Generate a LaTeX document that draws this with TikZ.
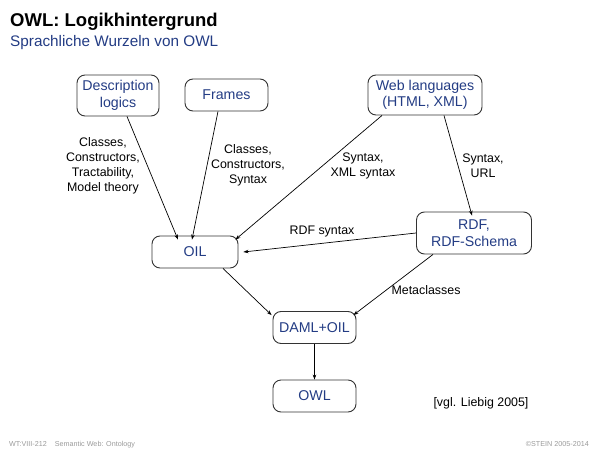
\documentclass[tikz,border=0pt]{standalone}
\usepackage{fontspec}
\setmainfont{Liberation Sans}
\usetikzlibrary{arrows.meta}
\definecolor{owlblue}{HTML}{233C84}
\definecolor{boxgray}{HTML}{333333}
\definecolor{footgray}{HTML}{9A9A9A}
\begin{document}
\begin{tikzpicture}[x=1pt,y=-1pt,
  box/.style={draw=boxgray,line width=0.9pt,rounded corners=8pt,align=center,
    text=owlblue,font=\fontsize{14.2}{16.5}\selectfont,inner sep=0pt},
  lbl/.style={align=center,font=\fontsize{12.4}{15}\selectfont,inner sep=0pt},
  conn/.style={line width=0.7pt,-{Stealth[length=5pt,width=3.6pt]}}]
\useasboundingbox (0,0) rectangle (600,450);
% title
\node[anchor=base west,inner sep=0pt,font=\fontsize{18.5}{20}\bfseries] (title) at (10,26) {OWL: Logikhintergrund};
\node[anchor=base west,inner sep=0pt,font=\fontsize{15.3}{17}\selectfont,text=owlblue] (sub) at (10,46) {Sprachliche Wurzeln von OWL};
% nodes
\node[box,minimum width=82pt,minimum height=41pt] (dl) at (118,95.5) {Description\\logics};
\node[box,minimum width=83pt,minimum height=32pt] (fr) at (226.5,95) {Frames};
\node[box,minimum width=114pt,minimum height=40pt] (web) at (425,95) {Web languages\\(HTML, XML)};
\node[box,minimum width=86pt,minimum height=32pt] (oil) at (195,252) {OIL};
\node[box,minimum width=115pt,minimum height=42pt] (rdf) at (474,233) {RDF,\\RDF-Schema};
\node[box,minimum width=83pt,minimum height=32pt] (daml) at (314.5,327.5) {DAML+OIL};
\node[box,minimum width=83pt,minimum height=32pt] (owl) at (314.5,396) {OWL};
% connectors
\draw[conn] ([xshift=9pt]dl.south) -- ([xshift=-17pt,yshift=-4pt]oil.north);
\draw[conn] ([xshift=-8.5pt]fr.south) -- ([xshift=-3pt,yshift=-4pt]oil.north);
\draw[conn] ([xshift=-43pt]web.south) -- ([xshift=-3pt,yshift=-4pt]oil.north east);
\draw[conn] ([xshift=19pt]web.south) -- ([xshift=-2pt,yshift=-4pt]rdf.north);
\draw[conn] (rdf.west) -- ([xshift=5pt]oil.east);
\draw[conn] ([xshift=28pt]oil.south) -- ([xshift=-1pt,yshift=-4pt]daml.north west);
\draw[conn] ([xshift=-41pt]rdf.south) -- ([xshift=-3pt,yshift=-4pt]daml.north east);
\draw[conn] (daml.south) -- (owl.north);
% labels
\node[lbl] (l1) at (103,165.5) {Classes,\\Constructors,\\Tractability,\\Model theory};
\node[lbl] (l2) at (248,165) {Classes,\\Constructors,\\Syntax};
\node[lbl] (l3) at (363,165.5) {Syntax,\\XML syntax};
\node[lbl] (l4) at (483,165.5) {Syntax,\\URL};
\node[lbl] (l5) at (322,232) {RDF syntax};
\node[lbl] (l6) at (426,290) {Metaclasses};
\node[lbl] (cite) at (481,403) {[vgl. Liebig 2005]};
% footer
\node[anchor=base west,inner sep=0pt,font=\fontsize{7.2}{8}\selectfont,text=footgray] (fl) at (9,446.5) {WT:VIII-212\hspace{8pt}Semantic Web: Ontology};
\node[anchor=base east,inner sep=0pt,font=\fontsize{7.2}{8}\selectfont,text=footgray] (fr2) at (589,446.5) {©STEIN 2005-2014};
\end{tikzpicture}
\end{document}
